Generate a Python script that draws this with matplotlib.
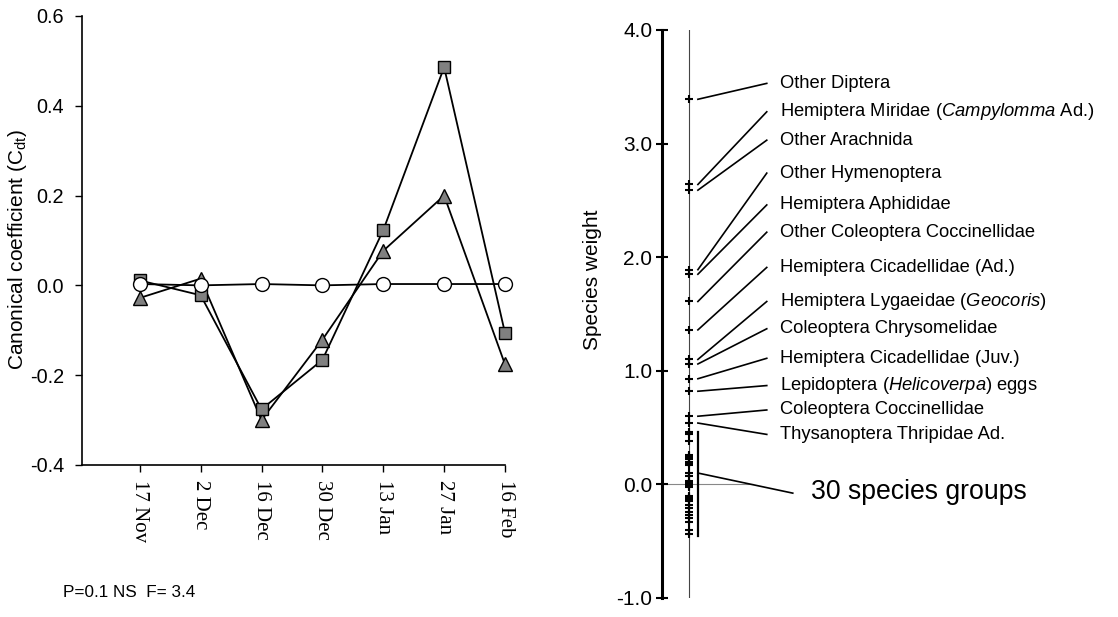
import numpy as np
import matplotlib
matplotlib.use('Agg')
import matplotlib.pyplot as plt

plt.rcParams['font.family'] = ['Liberation Sans', 'DejaVu Sans']
plt.rcParams['mathtext.fontset'] = 'custom'
plt.rcParams['mathtext.rm'] = 'Liberation Sans'
plt.rcParams['mathtext.it'] = 'Liberation Sans:italic'
plt.rcParams['axes.unicode_minus'] = False

# left panel: canonical coefficients per sampling date
dates = ['17 Nov', '2 Dec', '16 Dec', '30 Dec', '13 Jan', '27 Jan', '16 Feb']
cdt_square = [0.011, -0.022, -0.276, -0.166, 0.123, 0.486, -0.106]
cdt_triangle = [-0.028, 0.015, -0.300, -0.121, 0.077, 0.200, -0.176]
cdt_circle = [0.003, 0.000, 0.003, 0.000, 0.003, 0.003, 0.003]
left_yticks = [-0.4, -0.2, 0.0, 0.2, 0.4, 0.6]

# right panel: species weights
named_species = ['Other Diptera',
                 'Hemiptera Miridae ($\\it{Campylomma}$ Ad.)',
                 'Other Arachnida',
                 'Other Hymenoptera',
                 'Hemiptera Aphididae',
                 'Other Coleoptera Coccinellidae',
                 'Hemiptera Cicadellidae (Ad.)',
                 'Hemiptera Lygaeidae ($\\it{Geocoris)}$',
                 'Coleoptera Chrysomelidae',
                 'Hemiptera Cicadellidae (Juv.)',
                 'Lepidoptera ($\\it{Helicoverpa}$) eggs',
                 'Coleoptera Coccinellidae',
                 'Thysanoptera Thripidae Ad.']
named_weights = [3.39, 2.64, 2.59, 1.89, 1.85, 1.61, 1.36, 1.10, 1.06, 0.93, 0.82, 0.60, 0.54]
label_y = [3.53, 3.28, 3.03, 2.74, 2.46, 2.22, 1.91, 1.61, 1.37, 1.11, 0.87, 0.655, 0.44]
other_weights = [0.46, 0.44, 0.38, 0.26, 0.25, 0.23, 0.22, 0.20, 0.19, 0.17, 0.10, 0.07,
                 0.03, 0.01, 0.00, -0.01, -0.02, -0.10, -0.11, -0.12, -0.13, -0.15,
                 -0.18, -0.21, -0.24, -0.27, -0.30, -0.33, -0.40, -0.44]
group_label = '30 species groups'
right_yticks = [-1.0, 0.0, 1.0, 2.0, 3.0, 4.0]

fig = plt.figure(figsize=(11.18, 6.17), dpi=100)

# ---- left panel ----
ax = fig.add_axes([0.0733, 0.2464, 0.3784, 0.7277])
x = np.arange(len(dates))
ax.plot(x, cdt_triangle, '-^', color='black', lw=1.3, ms=10, mfc='#808080',
        mec='black', mew=1.0, clip_on=False, zorder=3)
ax.plot(x, cdt_square, '-s', color='black', lw=1.3, ms=9, mfc='#808080',
        mec='black', mew=1.0, clip_on=False, zorder=4)
ax.plot(x, cdt_circle, '-o', color='black', lw=1.3, ms=10, mfc='white',
        mec='black', mew=1.0, clip_on=False, zorder=5)
ax.set_xlim(-0.95, 6)
ax.set_ylim(-0.4, 0.6)
ax.set_yticks(left_yticks)
ax.set_yticklabels(['%.1f' % v for v in left_yticks], fontsize=14.3)
ax.set_xticks(x)
ax.set_xticklabels(dates, rotation=270, family=['Liberation Serif', 'DejaVu Serif'],
                   fontsize=15)
ax.tick_params(axis='both', direction='out', length=5, width=1.0, colors='black')
ax.tick_params(axis='x', pad=6)
ax.tick_params(axis='y', pad=8)
for s in ['top', 'right']:
    ax.spines[s].set_visible(False)
for s in ['left', 'bottom']:
    ax.spines[s].set_linewidth(1.2)
ax.set_ylabel('Canonical coefficient (C$_{\\mathrm{dt}}$)', fontsize=15)
ax.yaxis.set_label_coords(-0.125, 0.479)
fig.text(0.056, 0.040, 'P=0.1 NS  F= 3.4', fontsize=12.3, va='center')

# ---- right panel ----
ax2 = fig.add_axes([0.592, 0.0308, 0.408, 0.9206])
ax2.set_xlim(0, 1)
ax2.set_ylim(-1, 4)
ax2.set_yticks(right_yticks)
ax2.set_yticklabels(['%.1f' % v for v in right_yticks], fontsize=15)
ax2.tick_params(axis='y', direction='inout', length=8, width=1.5, pad=3)
ax2.set_xticks([])
for s in ['top', 'right', 'bottom']:
    ax2.spines[s].set_visible(False)
ax2.spines['left'].set_linewidth(2.2)
ax2.set_ylabel('Species weight', fontsize=15)
ax2.yaxis.set_label_coords(-0.132, 0.56)

x_pts = 0.0592
x_brk = 0.079
x_end = 0.230
x_txt = 0.258

ax2.axvline(x_pts, color='#444444', lw=0.8, zorder=1)
ax2.plot([0, 0.2], [0, 0], color='#888888', lw=0.8, zorder=1)
all_w = named_weights + other_weights
ax2.plot([x_pts] * len(all_w), all_w, '+', color='black', ms=6, mew=1.5, zorder=3)

for name, w, ly in zip(named_species, named_weights, label_y):
    ax2.plot([x_brk, x_end], [w, ly], color='black', lw=1.2)
    ax2.text(x_txt, ly, name, fontsize=13.2, va='center', ha='left')

ax2.plot([x_brk, x_brk], [max(other_weights), min(other_weights) - 0.01],
         color='black', lw=1.6)
ax2.plot([x_brk, 0.287], [0.10, -0.077], color='black', lw=1.2)
ax2.text(0.326, -0.068, group_label, fontsize=19.2, va='center', ha='left')

fig.savefig('out.png', dpi=100)
